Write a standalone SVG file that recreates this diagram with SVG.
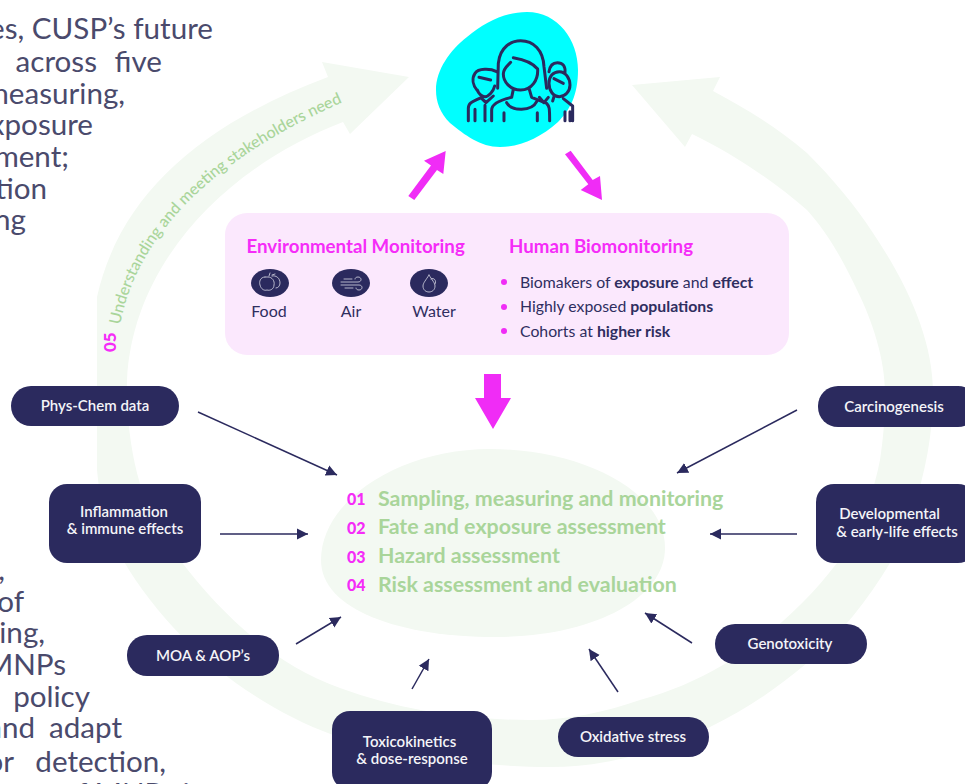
<svg xmlns="http://www.w3.org/2000/svg" width="965" height="784" viewBox="0 0 965 784">
<style>
text{font-family:Lato,"Liberation Sans",sans-serif}
.body{font-size:29.6px;fill:#4a4a6c;text-anchor:end}
.node{fill:#2b2a5e}
.nt{font-size:15px;font-weight:600;fill:#f4f4f8;text-anchor:middle}
.conn{stroke:#2b2a5e;stroke-width:1.5;fill:none;marker-end:url(#ah)}
.mag{fill:#f02cf6}
.head{font-size:18.7px;font-weight:700;fill:#f52cf8}
.lab{font-size:15.8px;fill:#2f2e60}
.lab2{font-size:16px;fill:#2f2e60;text-anchor:middle}
.num{font-size:16px;font-weight:900;fill:#f52cf8}
.st{font-size:21.4px;font-weight:700;fill:#a9d59a}
.ic{fill:none;stroke:#d9d9e6;stroke-width:.8;stroke-linecap:round}
.ppl{fill:none;stroke:#2b2a5e;stroke-width:9;stroke-linecap:round;stroke-linejoin:round}
</style>
<defs>
<marker id="ah" markerUnits="userSpaceOnUse" markerWidth="13" markerHeight="13" refX="11" refY="6" orient="auto"><path d="M0,0.5 L11,6 L0,11.5 Z" fill="#2b2a5e"/></marker>
</defs>
<g id="ring">
<path fill="#f3f9f2" d="M409,77 L322,62 L328,77 C200,125 120,195 97,297 L97,470 C100,505 110,535 123,560 C170,640 250,705 333,735 C400,755 480,767 550,767 C610,767 660,750 710,727 C745,710 775,690 807,663 C840,635 868,600 890,563 C915,515 933,455 933,393 C933,340 908,285 873,233 C855,205 832,178 807,153 C778,128 745,108 713,91 L720,77 L632,85 L685,147 L692,134 C735,155 772,180 807,210 C827,232 843,260 857,290 C873,322 885,360 885,393 C885,420 883,440 880,460 C873,497 858,532 837,563 C805,605 765,640 723,665 C697,680 670,692 640,700 C605,712 570,720 530,720 C465,720 400,710 340,688 C275,665 222,615 180,560 C160,530 145,505 137,473 C130,445 126,410 127,380 C133,260 230,165 343,122 L350,134 Z"/>
<path id="arcText" fill="none" d="M120,325 C135,245 200,165 339,104"/>
<text font-size="16" font-weight="500" fill="#a9d59a"><textPath href="#arcText">Understanding and meeting stakeholders need</textPath></text>
<text class="num" style="font-size:17px" transform="translate(116,352) rotate(-90)">05</text>
</g>
<g id="body-text">
<text class="body" x="213" y="39">es, CUSP’s future</text>
<text class="body" x="97" y="72">across</text>
<text class="body" x="162" y="72">five</text>
<text class="body" x="125" y="104">measuring,</text>
<text class="body" x="93" y="135">exposure</text>
<text class="body" x="69" y="167">ment;</text>
<text class="body" x="47" y="199">tion</text>
<text class="body" x="26" y="230">ng</text>
<text class="body" x="5" y="580">,</text>
<text class="body" x="24" y="612">of</text>
<text class="body" x="45" y="643">ing,</text>
<text class="body" x="66" y="675">MNPs</text>
<text class="body" x="90" y="707">policy</text>
<text class="body" x="35" y="738">and</text>
<text class="body" x="122" y="738">adapt</text>
<text class="body" x="14" y="772">or</text>
<text class="body" x="166" y="772">detection,</text>
<text class="body" x="206" y="804">of MNPs in</text>
</g>
<g id="people">
<path fill="#00ffff" d="M527,12 C558,12 578,40 578,70 C578,95 570,110 558,122 C540,138 520,147 500,147 C480,147 465,135 450,123 C440,113 436,102 436,90 C436,70 450,50 467,37 C485,22 505,12 527,12 Z"/>
<g class="ppl" transform="translate(400,0) scale(.3333)">
<path d="M293,265 L295,190 C300,140 335,122 362,122 C400,122 430,150 432,200 L440,265"/>
<path d="M340,173 C370,178 400,190 413,207 C415,240 395,270 362,270 C330,270 310,245 310,222 C310,205 325,195 332,187"/>
<path d="M340,268 L335,292 C300,300 275,312 275,330 V362 M388,268 L395,292 L440,310 C448,318 449,325 449,362 M320,308 C335,335 395,335 410,305 M312,338 V362 M412,338 V362"/>
<path d="M232,272 C218,255 215,235 225,220 C235,205 270,205 290,215 M237,232 L272,240 M232,270 C235,280 245,290 255,290 C265,290 280,275 284,258 M245,292 C225,303 205,305 205,325 V362 M225,328 V362 M255,316 V362 M245,295 L258,308 L280,288"/>
<path d="M447,215 C450,195 460,188 472,188 C488,188 497,198 495,218 M447,250 C447,228 460,215 478,215 C497,215 510,235 510,255 C510,275 495,290 478,290 C460,290 447,272 447,250 M462,236 L490,250 M462,290 L458,303 M418,292 L432,308 L445,292 M490,296 L518,318 V362 M495,335 V362 M510,335 V362"/>
</g>
</g>
<g id="magenta-arrows">
<polygon class="mag" points="408.3,196 414.3,200 437,170 443.3,174 445.7,151 424,160.7 431,165.5"/>
<polygon class="mag" points="565,154.3 570.7,150.7 592.7,180 600,176 602,200 580.7,190 588.3,184.3"/>
<polygon class="mag" points="484,374 501,374 501,398 511,398 493,429 475,398 484,398"/>
</g>
<g id="monitoring-panel">
<rect x="225" y="213" width="564" height="142" rx="22" fill="#fbe8fd"/>
<text class="head" x="246.5" y="253">Environmental Monitoring</text>
<text class="head" x="509" y="253">Human Biomonitoring</text>
<g id="food"><ellipse cx="270" cy="283" rx="19" ry="14" class="node"/><path class="ic" d="M265,277 C260,277 259,282 260,285 C261,289 264,291 267,290 C270,291 274,289 274,285 C275,281 272,277 268,277 L265,277 M272,276 C276,275 280,278 280,283 C280,286 278,288 276,288 M269,276 L270,273 M272,275 L275,274"/><text class="lab2" x="269" y="317">Food</text></g>
<g id="air"><ellipse cx="351" cy="283" rx="19" ry="14" class="node"/><path class="ic" d="M341,282 H358 C362,282 362,277 358,277 C356,277 355,278 355,279 M341,285 H359 C363,285 363,290 359,290 C357,290 356,289 356,288 M344,279 H352 M345,288 H353"/><text class="lab2" x="351" y="317">Air</text></g>
<g id="water"><ellipse cx="429" cy="283" rx="19" ry="14" class="node"/><path class="ic" d="M429,275 C426,280 423,283 423,286 C423,290 426,292 429,292 C432,292 435,290 435,286 C435,283 432,280 429,275 M431,279 C434,277 437,281 435,284"/><text class="lab2" x="434" y="317">Water</text></g>
<circle class="mag" cx="504" cy="282" r="3"/><circle class="mag" cx="504" cy="307" r="3"/><circle class="mag" cx="504" cy="331" r="3"/>
<text class="lab" x="520" y="288">Biomakers of <tspan font-weight="700">exposure</tspan> and <tspan font-weight="700">effect</tspan></text>
<text class="lab" x="520" y="312">Highly exposed <tspan font-weight="700">populations</tspan></text>
<text class="lab" x="520" y="337">Cohorts at <tspan font-weight="700">higher risk</tspan></text>
</g>
<g id="assessment">
<path fill="#f3f9f2" d="M490,449 C580,449 665,490 665,548 C665,600 590,637 495,637 C400,637 321,610 321,560 C321,500 400,449 490,449 Z"/>
<text class="num" x="347" y="505">01</text><text class="st" x="378" y="506">Sampling, measuring and monitoring</text>
<text class="num" x="347" y="534">02</text><text class="st" x="378" y="534">Fate and exposure assessment</text>
<text class="num" x="347" y="563">03</text><text class="st" x="378" y="563">Hazard assessment</text>
<text class="num" x="347" y="591">04</text><text class="st" x="378" y="592">Risk assessment and evaluation</text>
</g>
<g id="connectors">
<line class="conn" x1="198" y1="412" x2="337" y2="475"/>
<line class="conn" x1="220" y1="534" x2="308" y2="534"/>
<line class="conn" x1="296" y1="644" x2="341" y2="617"/>
<line class="conn" x1="412" y1="689" x2="429" y2="659"/>
<line class="conn" x1="618" y1="692" x2="589" y2="649"/>
<line class="conn" x1="692" y1="643" x2="645" y2="613"/>
<line class="conn" x1="797" y1="534" x2="710" y2="534"/>
<line class="conn" x1="797" y1="410" x2="677" y2="473"/>
</g>
<g id="phys-chem"><rect class="node" x="11" y="386" width="168" height="40" rx="20"/><text class="nt" x="95" y="411">Phys-Chem data</text></g>
<g id="inflammation"><rect class="node" x="49" y="484" width="152" height="79" rx="18"/><text class="nt" x="124" y="517">Inflammation</text><text class="nt" x="125" y="534">&amp; immune effects</text></g>
<g id="moa"><rect class="node" x="127" y="635" width="152" height="41" rx="20"/><text class="nt" x="203" y="661">MOA &amp; AOP’s</text></g>
<g id="toxicokinetics"><rect class="node" x="332" y="711" width="160" height="79" rx="18"/><text class="nt" x="409.5" y="747">Toxicokinetics</text><text class="nt" x="412" y="764">&amp; dose-response</text></g>
<g id="oxidative"><rect class="node" x="558" y="717" width="151" height="40" rx="20"/><text class="nt" x="633" y="742">Oxidative stress</text></g>
<g id="genotoxicity"><rect class="node" x="715" y="624" width="152" height="40" rx="20"/><text class="nt" x="790" y="649">Genotoxicity</text></g>
<g id="developmental"><rect class="node" x="816" y="484" width="160" height="79" rx="18"/><text class="nt" x="889.5" y="519">Developmental</text><text class="nt" x="897" y="537">&amp; early-life effects</text></g>
<g id="carcinogenesis"><rect class="node" x="818" y="386" width="160" height="41" rx="20"/><text class="nt" x="894" y="412">Carcinogenesis</text></g>
</svg>
